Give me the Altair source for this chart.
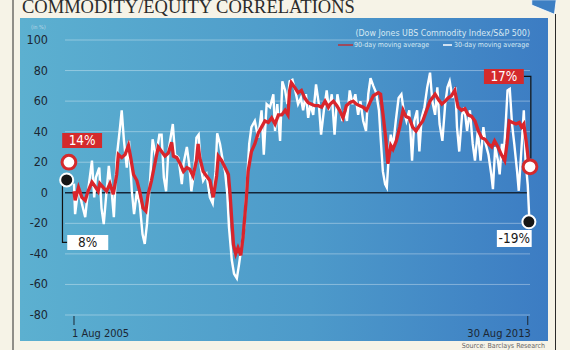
import altair as alt
import pandas as pd

# ---------------- data ----------------
red_year = [2005.58, 2005.60, 2005.66, 2005.72, 2005.78, 2005.83, 2005.90, 2005.95, 2006.01, 2006.04,
            2006.10, 2006.16, 2006.22, 2006.28, 2006.34, 2006.37, 2006.43, 2006.49, 2006.55, 2006.59,
            2006.64, 2006.70, 2006.75, 2006.81, 2006.86, 2006.90, 2006.96, 2007.02, 2007.08, 2007.14,
            2007.20, 2007.26, 2007.32, 2007.35, 2007.41, 2007.47, 2007.53, 2007.59, 2007.64, 2007.70,
            2007.76, 2007.79, 2007.82, 2007.88, 2007.94, 2008.00, 2008.06, 2008.12, 2008.15, 2008.21,
            2008.27, 2008.33, 2008.36, 2008.39, 2008.42, 2008.46, 2008.50, 2008.55, 2008.59, 2008.65,
            2008.68, 2008.74, 2008.80, 2008.86, 2008.92, 2008.98, 2009.04, 2009.10, 2009.16, 2009.22,
            2009.28, 2009.34, 2009.39, 2009.42, 2009.45, 2009.51, 2009.57, 2009.63, 2009.69, 2009.75,
            2009.81, 2009.87, 2009.93, 2009.99, 2010.05, 2010.11, 2010.14, 2010.20, 2010.26, 2010.31,
            2010.37, 2010.43, 2010.49, 2010.55, 2010.61, 2010.67, 2010.73, 2010.79, 2010.85, 2010.91,
            2011.00, 2011.04, 2011.09, 2011.13, 2011.17, 2011.22, 2011.26, 2011.32, 2011.38, 2011.44,
            2011.49, 2011.55, 2011.61, 2011.67, 2011.73, 2011.79, 2011.86, 2011.92, 2012.01, 2012.07,
            2012.13, 2012.19, 2012.24, 2012.30, 2012.36, 2012.42, 2012.48, 2012.54, 2012.60, 2012.66,
            2012.72, 2012.78, 2012.84, 2012.90, 2012.96, 2013.02, 2013.07, 2013.13, 2013.19, 2013.25,
            2013.29, 2013.33, 2013.39, 2013.45, 2013.51, 2013.55, 2013.59, 2013.63, 2013.66, 2013.69]
red_val = [1, -5, 3.5, -3, -5, 1, 7, 4.5, 1, 6,
           3.5, 1, 6, -1, 12, 25, 23, 25, 31, 23,
           12, 8, 1, -10, -12, -1, 8, 19, 30, 27,
           24, 26, 33, 24, 23, 19, 14, 16.5, 15.5, 11,
           21, 32, 23, 14, 11, 8, -3, 11, 24, 21,
           16.5, 12, -1, -18, -34, -40, -36, -41, -29, -3,
           14, 27, 32, 39, 43, 47, 46, 49, 45, 51,
           51, 54, 51, 67, 72, 69, 65.5, 67, 62, 59,
           58, 57, 57, 56, 60, 56, 58, 60, 57, 54,
           49, 57, 59, 60, 58, 57, 56, 54, 59, 63.5,
           65.5, 64.5, 49, 36, 19, 31, 28.5, 34, 43, 54,
           50, 49, 43, 40.5, 44, 47, 54, 60, 64.5, 61,
           58, 60, 62, 63.5, 67, 56, 54, 55, 51, 50,
           47, 40.5, 36, 35, 32, 30, 34, 30, 25, 21,
           32, 47, 46, 45, 46, 43, 45, 34, 25, 17]

white_year = [2005.58, 2005.60, 2005.66, 2005.72, 2005.78, 2005.83, 2005.90, 2005.94, 2005.97, 2006.03,
              2006.07, 2006.11, 2006.16, 2006.20, 2006.25, 2006.29, 2006.34, 2006.40, 2006.43, 2006.47,
              2006.52, 2006.56, 2006.61, 2006.65, 2006.70, 2006.75, 2006.80, 2006.84, 2006.88, 2006.93,
              2006.98, 2007.04, 2007.10, 2007.14, 2007.18, 2007.22, 2007.26, 2007.30, 2007.34, 2007.38,
              2007.44, 2007.50, 2007.53, 2007.59, 2007.63, 2007.67, 2007.72, 2007.76, 2007.80, 2007.84,
              2007.88, 2007.94, 2008.00, 2008.05, 2008.10, 2008.13, 2008.18, 2008.23, 2008.27, 2008.31,
              2008.34, 2008.39, 2008.43, 2008.48, 2008.52, 2008.56, 2008.61, 2008.65, 2008.70, 2008.74,
              2008.80, 2008.86, 2008.92, 2008.96, 2009.01, 2009.07, 2009.13, 2009.16, 2009.20, 2009.25,
              2009.29, 2009.34, 2009.38, 2009.42, 2009.47, 2009.52, 2009.57, 2009.62, 2009.66, 2009.71,
              2009.75, 2009.79, 2009.84, 2009.89, 2009.94, 2009.98, 2010.03, 2010.08, 2010.12, 2010.17,
              2010.22, 2010.27, 2010.31, 2010.36, 2010.40, 2010.44, 2010.49, 2010.54, 2010.59, 2010.64,
              2010.68, 2010.73, 2010.78, 2010.82, 2010.86, 2010.91, 2010.96, 2011.01, 2011.04, 2011.08,
              2011.12, 2011.15, 2011.18, 2011.22, 2011.26, 2011.31, 2011.36, 2011.41, 2011.45, 2011.50,
              2011.55, 2011.60, 2011.64, 2011.69, 2011.73, 2011.77, 2011.82, 2011.87, 2011.92, 2011.96,
              2012.01, 2012.05, 2012.09, 2012.14, 2012.19, 2012.23, 2012.27, 2012.32, 2012.37, 2012.40,
              2012.44, 2012.49, 2012.53, 2012.58, 2012.63, 2012.68, 2012.72, 2012.77, 2012.82, 2012.87,
              2012.91, 2012.96, 2013.01, 2013.04, 2013.08, 2013.13, 2013.16, 2013.20, 2013.23, 2013.27,
              2013.30, 2013.34, 2013.38, 2013.42, 2013.47, 2013.50, 2013.55, 2013.59, 2013.62, 2013.66,
              2013.69]
white_val = [6, -14, 3.5, -7, -16, 1, 21, -3, 10, 16.5,
             -10, -20.5, 1, 17.6, 1, -16, 23, 43, 54, 34,
             16.5, 34, 1, -14, 1, -7, -27, -33.5, -20.5, 5.7,
             35, 23, 38, 38, 10, 1, 27, 36, 45, 25,
             23, 5.7, 19, 30, 19, 1, 14, 36, 38, 16.5,
             8, 12, -3, -7, 14, 39, 32, 21, 14, -1,
             -22.6, -44, -53, -56, -46.6, -36, -22.6, 0, 32, 43,
             47, 36, 54, 25, 58, 56, 64.5, 40.5, 58, 34,
             73, 67, 58, 73, 74, 67, 58, 62, 54, 64.5,
             49, 58, 51, 71, 58, 38, 54, 67, 54, 64.5,
             38, 64.5, 56, 47, 54, 47, 67, 58, 64.5, 51,
             60, 47, 40.5, 64.5, 75, 70, 65.5, 54, 36, 14,
             5.7, 3.5, 21, 38, 30, 47, 62, 64.5, 54, 47,
             54, 21, 47, 54, 27, 49, 56, 69, 78.6, 60,
             51, 69, 45, 34, 58, 69, 73, 62, 69, 43,
             27, 51, 56, 40.5, 54, 32, 21, 40.5, 21, 43,
             32, 25, 12, 2.4, 30, 21, 12, 32, 23, 47,
             67, 68, 45, 32, 14, 1.3, 30, 54, 21, 5,
             -19]

y_ticks = [-80, -60, -40, -20, 0, 20, 40, 60, 80, 100]
x_tick_years = [2005.58, 2013.66]
x_tick_labels = ["1 Aug 2005", "30 Aug 2013"]

# endpoint markers (year, value)
red_dot_year = [2005.49, 2013.70]
red_dot_val = [20, 17]
black_dot_year = [2005.45, 2013.68]
black_dot_val = [8.4, -19]

# value call-outs
callout_text = ["14%", "8%", "17%", "-19%"]

# ---------------- frames ----------------
red_df = pd.DataFrame({"year": red_year, "val": red_val})
white_df = pd.DataFrame({"year": white_year, "val": white_val})
grid_df = pd.DataFrame({"v": [t for t in y_ticks if t != 0]})
zero_df = pd.DataFrame({"v": [0]})
ylab_df = pd.DataFrame({"v": y_ticks, "lab": [str(t) for t in y_ticks]})
xtick_df = pd.DataFrame({"year": x_tick_years, "lab": x_tick_labels})
red_dot_df = pd.DataFrame({"year": red_dot_year, "val": red_dot_val})
black_dot_df = pd.DataFrame({"year": black_dot_year, "val": black_dot_val})

box_df = pd.DataFrame({
    "text": callout_text,
    "x1": [2005.37, 2005.46, 2012.88, 2013.11],
    "x2": [2006.08, 2006.19, 2013.59, 2013.73],
    "y1": [29.3, -37.5, 71.2, -35.5],
    "y2": [39.1, -27.6, 81.0, -24.4],
    "fill": ["#d42a2c", "#ffffff", "#d42a2c", "#ffffff"],
    "ink": ["#ffffff", "#1a1a1a", "#ffffff", "#1a1a1a"],
})
box_df["xc"] = (box_df["x1"] + box_df["x2"]) / 2
box_df["yc"] = (box_df["y1"] + box_df["y2"]) / 2

conn_df = pd.DataFrame({
    "g": ["a", "a", "a", "b", "b", "b"],
    "o": [0, 1, 2, 0, 1, 2],
    "year": [2005.375, 2005.375, 2005.46, 2013.59, 2013.715, 2013.715],
    "val": [8.4, -32.5, -32.5, 76.2, 76.2, 22.5],
})

dummy = pd.DataFrame({"a": [0]})

xs = alt.Scale(domain=[2005.42, 2013.70], nice=False, zero=False)
ys = alt.Scale(domain=[-80, 100], nice=False, zero=False)

SANS = "DejaVu Sans Condensed, DejaVu Sans, sans-serif"
AXIS_INK = "#1c2733"

# ---------------- decoration layers ----------------
grad = alt.LinearGradient(
    gradient="linear",
    stops=[alt.GradientStop(color="#5cb0d0", offset=0),
           alt.GradientStop(color="#4d9aca", offset=0.55),
           alt.GradientStop(color="#3c7cc3", offset=1)],
    x1=0, x2=1, y1=0, y2=0)

panel = alt.Chart(dummy).mark_rect(fill=grad).encode(
    x=alt.value(-45), x2=alt.value(483), y=alt.value(-22), y2=alt.value(301))

border_l = alt.Chart(dummy).mark_rule(color="#2a2a2a", strokeWidth=1).encode(
    x=alt.value(-52), y=alt.value(-40), y2=alt.value(310))
border_r = alt.Chart(dummy).mark_rule(color="#2a2a2a", strokeWidth=1).encode(
    x=alt.value(490.5), y=alt.value(-26), y2=alt.value(310))

corner = alt.Chart(dummy).mark_point(
    shape="M -1 -0.63 L 1 -0.63 L 0.85 0.55 L -1 -0.2 Z", filled=True,
    fill="#3d7fc3", stroke="#ffffff", strokeWidth=0.8, opacity=1, size=600).encode(
    x=alt.value(479), y=alt.value(-32.5))

title = alt.Chart(dummy).mark_text(
    text="COMMODITY/EQUITY CORRELATIONS", align="left", baseline="alphabetic",
    font="Liberation Serif", fontSize=18.5, color="#2b2b2b").encode(
    x=alt.value(-43), y=alt.value(-27.5))

source = alt.Chart(dummy).mark_text(
    text="Source: Barclays Research", align="right", baseline="alphabetic",
    font=SANS, fontSize=7, color="#666666").encode(
    x=alt.value(480), y=alt.value(308))

in_pct = alt.Chart(dummy).mark_text(
    text="(in %)", align="left", baseline="middle",
    font=SANS, fontSize=5.5, color="#bcd8e6").encode(
    x=alt.value(-34), y=alt.value(-13))

leg_title = alt.Chart(dummy).mark_text(
    text="(Dow Jones UBS Commodity Index/S&P 500)", align="right", baseline="middle",
    font=SANS, fontSize=8.8, color="#d6e8f2").encode(
    x=alt.value(465), y=alt.value(-7))
leg_red = alt.Chart(dummy).mark_rule(color="#b8323a", strokeWidth=1.5).encode(
    x=alt.value(273), x2=alt.value(288), y=alt.value(5))
leg_red_t = alt.Chart(dummy).mark_text(
    text="90-day moving average", align="left", baseline="middle",
    font=SANS, fontSize=7, color="#d6e8f2").encode(
    x=alt.value(289), y=alt.value(5))
leg_white = alt.Chart(dummy).mark_rule(color="#ffffff", strokeWidth=1.5).encode(
    x=alt.value(378), x2=alt.value(387), y=alt.value(5))
leg_white_t = alt.Chart(dummy).mark_text(
    text="30-day moving average", align="left", baseline="middle",
    font=SANS, fontSize=7, color="#d6e8f2").encode(
    x=alt.value(389), y=alt.value(5))

# ---------------- scale-positioned layers ----------------
grid = alt.Chart(grid_df).mark_rule(color="#ffffff", opacity=0.35, strokeWidth=1).encode(
    y=alt.Y("v:Q", scale=ys, axis=None), x=alt.value(0), x2=alt.value(465))

zero = alt.Chart(zero_df).mark_rule(color="#152638", strokeWidth=1.5).encode(
    y=alt.Y("v:Q", scale=ys, axis=None), x=alt.value(0), x2=alt.value(462))

ylabels = alt.Chart(ylab_df).mark_text(
    align="right", baseline="middle", font=SANS, fontSize=12.5,
    fill=AXIS_INK, opacity=1).encode(
    y=alt.Y("v:Q", scale=ys, axis=None), x=alt.value(-17), text="lab:N")

xticks = alt.Chart(xtick_df).mark_rule(strokeWidth=1, color=AXIS_INK).encode(
    x=alt.X("year:Q", scale=xs, axis=None), y=alt.value(276), y2=alt.value(285))

xlab_first = alt.Chart(xtick_df.iloc[[0]]).mark_text(
    align="left", baseline="middle", dx=-2, font=SANS, fontSize=11,
    fill=AXIS_INK, opacity=1).encode(
    x=alt.X("year:Q", scale=xs, axis=None), y=alt.value(294), text="lab:N")
xlab_last = alt.Chart(xtick_df.iloc[[1]]).mark_text(
    align="right", baseline="middle", dx=3, font=SANS, fontSize=11,
    fill=AXIS_INK, opacity=1).encode(
    x=alt.X("year:Q", scale=xs, axis=None), y=alt.value(294), text="lab:N")

white_line = alt.Chart(white_df).mark_line(color="#ffffff", strokeWidth=2.4, clip=False).encode(
    x=alt.X("year:Q", scale=xs, axis=None),
    y=alt.Y("val:Q", scale=ys, axis=None),
    order="year:Q")

red_line = alt.Chart(red_df).mark_line(color="#d9252c", strokeWidth=3.3, clip=False).encode(
    x=alt.X("year:Q", scale=xs, axis=None),
    y=alt.Y("val:Q", scale=ys, axis=None),
    order="year:Q")

conn = alt.Chart(conn_df).mark_line(color="#111111", strokeWidth=1.2, clip=False).encode(
    x=alt.X("year:Q", scale=xs, axis=None),
    y=alt.Y("val:Q", scale=ys, axis=None),
    detail="g:N", order="o:Q")

red_dots = alt.Chart(red_dot_df).mark_point(
    shape="circle", filled=True, fill="#ffffff", stroke="#d42a2c", strokeWidth=3,
    size=190, opacity=1, clip=False).encode(
    x=alt.X("year:Q", scale=xs, axis=None), y=alt.Y("val:Q", scale=ys, axis=None))

black_dots = alt.Chart(black_dot_df).mark_point(
    shape="circle", filled=True, fill="#161616", stroke="#ffffff", strokeWidth=2,
    size=170, opacity=1, clip=False).encode(
    x=alt.X("year:Q", scale=xs, axis=None), y=alt.Y("val:Q", scale=ys, axis=None))

boxes = alt.Chart(box_df).mark_rect(clip=False).encode(
    x=alt.X("x1:Q", scale=xs, axis=None), x2="x2:Q",
    y=alt.Y("y1:Q", scale=ys, axis=None), y2="y2:Q",
    fill=alt.Fill("fill:N", scale=None))

box_text = alt.Chart(box_df).mark_text(
    font=SANS, fontSize=13.5, baseline="middle", align="center", clip=False).encode(
    x=alt.X("xc:Q", scale=xs, axis=None), y=alt.Y("yc:Q", scale=ys, axis=None),
    text="text:N", color=alt.Color("ink:N", scale=None))

chart = alt.layer(
    panel, corner, border_l, border_r, title, source, in_pct,
    grid, zero, ylabels, xticks, xlab_first, xlab_last,
    white_line, red_line, conn, red_dots, black_dots, boxes, box_text,
    leg_title, leg_red, leg_red_t, leg_white, leg_white_t,
).properties(
    width=465, height=275,
    padding={"left": 65, "top": 40, "right": 40, "bottom": 35},
    autosize=alt.AutoSizeParams(type="none"),
).configure(background="#f6f3e7").configure_view(stroke=None)

chart.save("out.html", embed_options={"renderer": "svg", "actions": False})
